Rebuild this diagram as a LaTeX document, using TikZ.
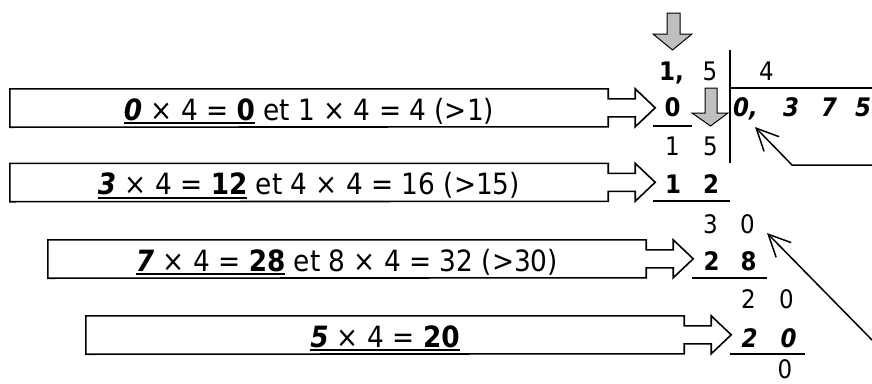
\documentclass[tikz,border=0pt]{standalone}
\usepackage{fontspec}
\setmainfont{DejaVu Sans Condensed}
\usetikzlibrary{arrows.meta}
\newcommand\ulx[1]{\setbox0\hbox{#1}\rlap{\rule[-4pt]{\wd0}{2pt}}\box0\relax}
\newcommand\bi[1]{\textbf{\textit{#1}}}
\tikzset{
  boxtxt/.style={font=\fontsize{29.3}{34}\selectfont, minimum width=598pt, minimum height=38pt,
    text height=24pt, text depth=0pt, inner sep=0pt},
  callout/.style={draw=black, line width=1.6pt, line join=miter},
  dg/.style={font=\fontsize{25.5}{30}\selectfont, inner sep=0pt, anchor=base},
  rule/.style={draw=black, line width=1.7pt},
  grayarrow/.style={draw=black, line width=1pt, fill=black!25},
  pointer/.style={draw=black, line width=1.5pt, -{Straight Barb[length=22pt, width=21pt, line width=1.5pt]}}
}
\begin{document}
\begin{tikzpicture}[x=1pt, y=1pt]
\useasboundingbox (0,0) rectangle (872,-383);

% boxes with text
\node[boxtxt] (b1) at (309,-108) {\ulx{\bi{0} × 4 = \textbf{0}} et 1 × 4 = 4 (>1)};
\node[boxtxt] (b2) at (309,-182.5) {\ulx{\bi{3} × 4 = \textbf{12}} et 4 × 4 = 16 (>15)};
\node[boxtxt] (b3) at (347,-259) {\ulx{\bi{7} × 4 = \textbf{28}} et 8 × 4 = 32 (>30)};
\node[boxtxt] (b4) at (385,-335) {\ulx{\bi{5} × 4 = \textbf{20}}};

\foreach \b in {b1,b2,b3,b4}{
  \draw[callout] (\b.north west) -- (\b.north east) -- ++(0,-10) -- ++(27,0) -- ++(0,10)
    -- ++(20,-19) -- ++(-20,-19) -- ++(0,10) -- ++(-27,0) -- ++(0,-10) -- (\b.south west) -- cycle;
}

% division digits
\node[dg, anchor=base west] (d11) at (659,-80) {\textbf{1,}};
\node[dg] (d12) at (710,-80) {5};
\node[dg] (dv) at (766.5,-80) {4};

\node[dg] (p1) at (672.5,-116) {\textbf{0}};
\node[dg, anchor=base west] (q0) at (733,-116) {\bi{0,}};
\node[dg] (q1) at (791,-116) {\bi{3}};
\node[dg] (q2) at (829,-116) {\bi{7}};
\node[dg] (q3) at (863,-116) {\bi{5}};

\node[dg] (r11) at (672.5,-155) {1};
\node[dg] (r12) at (710.5,-155) {5};
\node[dg] (p21) at (673,-193) {\textbf{1}};
\node[dg] (p22) at (711,-193) {\textbf{2}};
\node[dg] (r21) at (710.5,-233) {3};
\node[dg] (r22) at (747.5,-233) {0};
\node[dg] (p31) at (711.5,-270) {\textbf{2}};
\node[dg] (p32) at (748.5,-270) {\textbf{8}};
\node[dg] (r31) at (748.5,-308) {2};
\node[dg] (r32) at (786.5,-308) {0};
\node[dg] (p41) at (749.5,-347) {\bi{2}};
\node[dg] (p42) at (788.5,-347) {\bi{0}};
\node[dg] (r41) at (785,-378) {0};

% division lines
\draw[rule] (730,-50) -- (730,-163);
\draw[rule] (730,-88) -- (872,-88);
\draw[rule] (653,-126) -- (692,-126);
\draw[rule] (653,-201) -- (730,-201);
\draw[rule] (692,-278) -- (767,-278);
\draw[rule] (730,-354) -- (805,-354);

% gray arrows
\draw[grayarrow] (667,-13) -- (680,-13) -- (680,-34) -- (692,-34) -- (672.5,-50) -- (653,-34) -- (667,-34) -- cycle;
\draw[grayarrow] (705,-88) -- (717,-88) -- (717,-113) -- (728,-113) -- (710.5,-126) -- (692,-113) -- (705,-113) -- cycle;

% pointers
\coordinate (s1) at (872,-165);
\coordinate (k1) at (792,-165);
\coordinate (t1) at (755,-127);
\draw[pointer] (s1) -- (k1) -- (t1);
\coordinate (s2) at (872,-340);
\coordinate (t2) at (767,-233);
\draw[pointer] (s2) -- (t2);
\end{tikzpicture}
\end{document}
